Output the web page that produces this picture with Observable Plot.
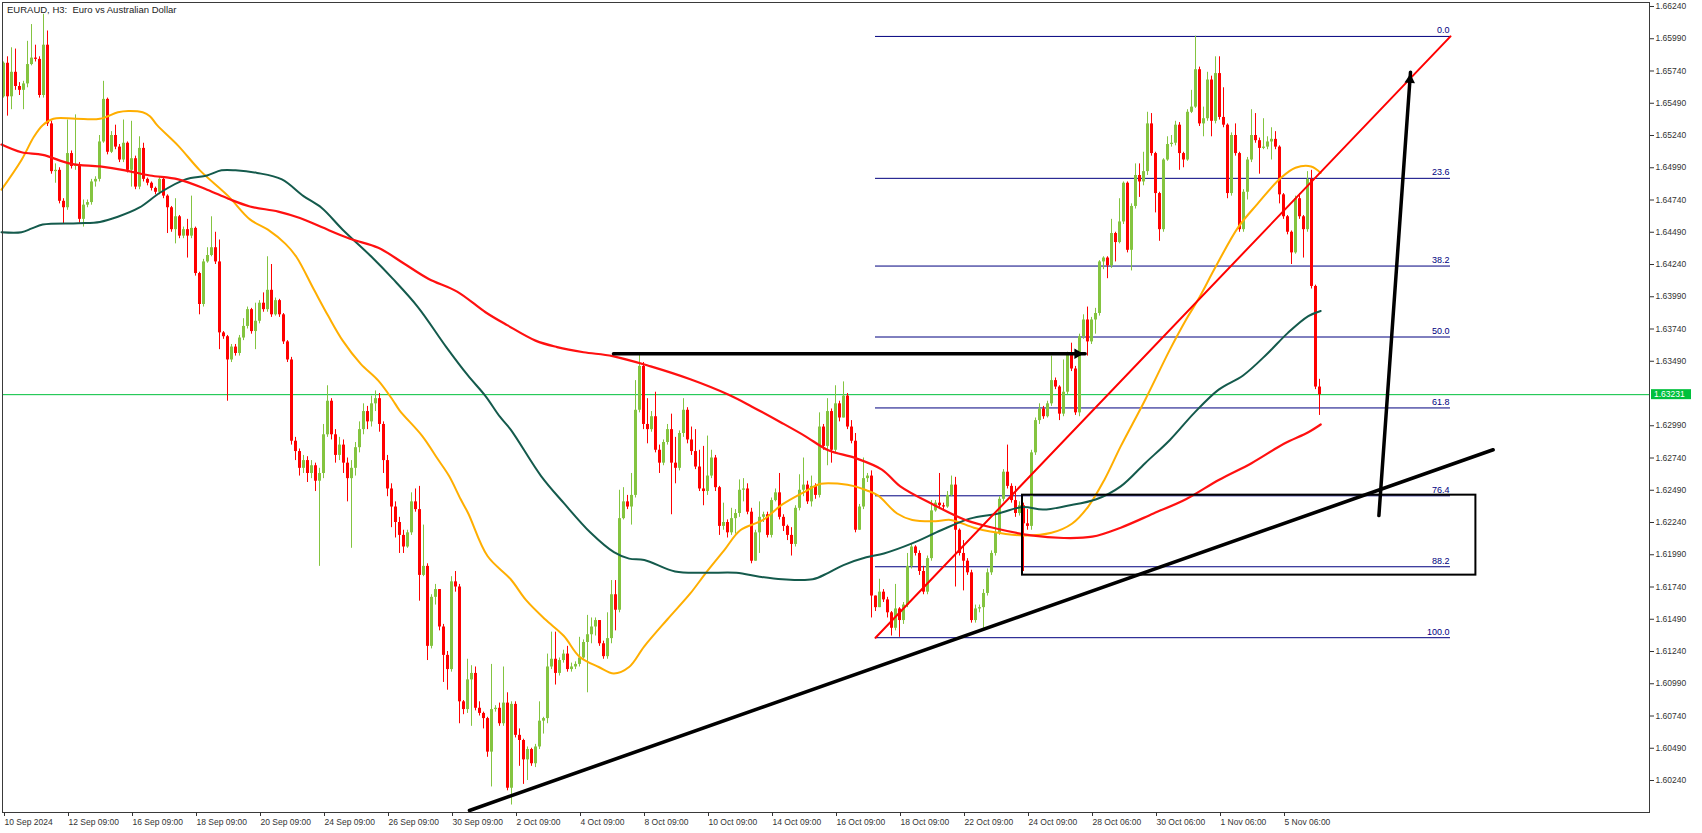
<!DOCTYPE html>
<html><head><meta charset="utf-8">
<script src="https://cdn.jsdelivr.net/npm/d3@7"></script>
<script src="https://cdn.jsdelivr.net/npm/@observablehq/plot@0.6"></script>
<style>body{margin:0;background:#fff;} svg{display:block}</style>
</head><body><div id="chart"></div>
<script>
// ---- Data (EURAUD H3, bar index from 10 Sep 2024) ----
const titleText = "EURAUD, H3:\u00a0 Euro vs Australian Dollar";
const firstOpen = 1.6554;
const closes = [1.6580,1.6554,1.6573,1.6562,1.6559,1.6564,1.6579,1.6584,1.6583,1.6555,
1.6594,1.6533,1.6496,1.6497,1.6473,1.6468,1.6510,1.6500,1.6501,1.6459,
1.6470,1.6472,1.6488,1.6490,1.6519,1.6552,1.6511,1.6524,1.6515,1.6505,
1.6518,1.6497,1.6506,1.6484,1.6514,1.6490,1.6487,1.6483,1.6480,1.6490,
1.6477,1.6468,1.6451,1.6461,1.6446,1.6451,1.6446,1.6452,1.6417,1.6393,
1.6426,1.6431,1.6437,1.6426,1.6371,1.6368,1.6350,1.6360,1.6355,1.6367,
1.6376,1.6389,1.6372,1.6380,1.6394,1.6389,1.6404,1.6385,1.6396,1.6385,
1.6364,1.6350,1.6287,1.6279,1.6266,1.6272,1.6262,1.6268,1.6256,1.6262,
1.6292,1.6318,1.6292,1.6276,1.6284,1.6270,1.6258,1.6266,1.6282,1.6296,
1.6310,1.6302,1.6316,1.6320,1.6300,1.6272,1.6250,1.6236,1.6224,1.6214,
1.6205,1.6216,1.6240,1.6234,1.6183,1.6190,1.6128,1.6166,1.6172,1.6143,
1.6121,1.6110,1.6178,1.6174,1.6085,1.6079,1.6102,1.6107,1.6080,1.6076,
1.6072,1.6046,1.6079,1.6080,1.6068,1.6084,1.6018,1.6083,1.6059,1.6055,
1.6040,1.6048,1.6037,1.6050,1.6070,1.6072,1.6112,1.6118,1.6107,1.6117,
1.6122,1.6110,1.6112,1.6114,1.6119,1.6131,1.6137,1.6143,1.6148,1.6130,
1.6120,1.6134,1.6168,1.6156,1.6227,1.6240,1.6236,1.6245,1.6311,1.6345,
1.6300,1.6296,1.6306,1.6280,1.6270,1.6286,1.6296,1.6270,1.6266,1.6293,
1.6311,1.6288,1.6279,1.6267,1.6250,1.6248,1.6260,1.6274,1.6251,1.6221,
1.6224,1.6216,1.6227,1.6231,1.6249,1.6250,1.6232,1.6194,1.6216,1.6228,
1.6230,1.6214,1.6241,1.6247,1.6228,1.6221,1.6214,1.6207,1.6235,1.6249,
1.6253,1.6240,1.6252,1.6245,1.6298,1.6283,1.6310,1.6280,1.6316,1.6305,
1.6322,1.6298,1.6287,1.6218,1.6236,1.6258,1.6260,1.6167,1.6158,1.6170,
1.6164,1.6154,1.6142,1.6157,1.6148,1.6160,1.6190,1.6205,1.6200,1.6186,
1.6170,1.6196,1.6233,1.6239,1.6237,1.6236,1.6245,1.6253,1.6218,1.6200,
1.6194,1.6185,1.6148,1.6157,1.6158,1.6169,1.6185,1.6200,1.6216,1.6242,
1.6263,1.6252,1.6241,1.6231,1.6237,1.6223,1.6221,1.6278,1.6303,1.6312,
1.6306,1.6316,1.6334,1.6329,1.6308,1.6325,1.6354,1.6343,1.6309,1.6368,
1.6381,1.6364,1.6381,1.6386,1.6426,1.6429,1.6423,1.6448,1.6441,1.6457,
1.6487,1.6435,1.6469,1.6493,1.6488,1.6496,1.6533,1.6510,1.6479,1.6451,
1.6505,1.6517,1.6518,1.6532,1.6510,1.6505,1.6542,1.6546,1.6575,1.6533,
1.6537,1.6567,1.6535,1.6572,1.6538,1.6532,1.6479,1.6524,1.6510,1.6451,
1.6480,1.6505,1.6524,1.6520,1.6514,1.6515,1.6519,1.6521,1.6515,1.6478,
1.6461,1.6449,1.6433,1.6475,1.6461,1.6451,1.6490,1.6407,1.6329,1.63231];
const highs = [1.6581,1.6585,1.6592,1.6591,1.6565,1.6566,1.6597,1.6610,1.6594,1.6585,
1.6618,1.6605,1.6535,1.6502,1.6499,1.6475,1.6536,1.6512,1.6540,1.6503,
1.6474,1.6474,1.6490,1.6492,1.6524,1.6566,1.6553,1.6527,1.6532,1.6517,
1.6536,1.6519,1.6535,1.6508,1.6523,1.6518,1.6491,1.6488,1.6484,1.6492,
1.6491,1.6478,1.6469,1.6475,1.6462,1.6453,1.6459,1.6477,1.6453,1.6418,
1.6428,1.6437,1.6461,1.6449,1.6443,1.6372,1.6369,1.6362,1.6362,1.6369,
1.6382,1.6391,1.6390,1.6394,1.6396,1.6402,1.6430,1.6424,1.6398,1.6397,
1.6386,1.6365,1.6352,1.6290,1.6281,1.6276,1.6275,1.6272,1.6270,1.6266,
1.6300,1.6330,1.6320,1.6296,1.6290,1.6288,1.6274,1.6272,1.6286,1.6302,
1.6316,1.6314,1.6322,1.6326,1.6324,1.6302,1.6276,1.6254,1.6240,1.6228,
1.6218,1.6218,1.6247,1.6250,1.6252,1.6222,1.6192,1.6168,1.6176,1.6172,
1.6145,1.6124,1.6182,1.6186,1.6176,1.6086,1.6118,1.6113,1.6112,1.6085,
1.6077,1.6073,1.6114,1.6082,1.6084,1.6112,1.6092,1.6085,1.6085,1.6064,
1.6056,1.6050,1.6049,1.6052,1.6085,1.6073,1.6122,1.6139,1.6139,1.6119,
1.6125,1.6128,1.6115,1.6116,1.6135,1.6133,1.6152,1.6150,1.6150,1.6148,
1.6132,1.6154,1.6179,1.6179,1.6249,1.6251,1.6245,1.6262,1.6334,1.6354,
1.6348,1.6320,1.6310,1.6325,1.6284,1.6288,1.6300,1.6308,1.6290,1.6295,
1.6320,1.6313,1.6298,1.6296,1.6280,1.6283,1.6291,1.6280,1.6276,1.6252,
1.6239,1.6226,1.6235,1.6234,1.6257,1.6258,1.6254,1.6235,1.6218,1.6240,
1.6232,1.6232,1.6243,1.6250,1.6262,1.6230,1.6222,1.6220,1.6237,1.6261,
1.6274,1.6256,1.6260,1.6254,1.6309,1.6300,1.6320,1.6312,1.6330,1.6318,
1.6333,1.6324,1.6303,1.6293,1.6238,1.6274,1.6262,1.6264,1.6167,1.6180,
1.6172,1.6166,1.6155,1.6176,1.6158,1.6162,1.6200,1.6207,1.6206,1.6202,
1.6190,1.6198,1.6241,1.6241,1.6262,1.6239,1.6248,1.6260,1.6259,1.6219,
1.6210,1.6196,1.6187,1.6160,1.6160,1.6172,1.6188,1.6202,1.6232,1.6244,
1.6265,1.6284,1.6254,1.6252,1.6240,1.6239,1.6234,1.6280,1.6305,1.6316,
1.6314,1.6318,1.6353,1.6336,1.6330,1.6350,1.6356,1.6363,1.6345,1.6370,
1.6385,1.6391,1.6383,1.6390,1.6427,1.6430,1.6430,1.6459,1.6449,1.6475,
1.6488,1.6488,1.6471,1.6502,1.6502,1.6511,1.6542,1.6541,1.6511,1.6480,
1.6506,1.6523,1.6524,1.6535,1.6534,1.6511,1.6544,1.6559,1.6601,1.6577,
1.6546,1.6573,1.6570,1.6585,1.6585,1.6561,1.6533,1.6526,1.6533,1.6511,
1.6482,1.6507,1.6544,1.6541,1.6522,1.6537,1.6523,1.6530,1.6527,1.6516,
1.6479,1.6462,1.6450,1.6477,1.6479,1.6462,1.6496,1.6497,1.6408,1.6335];
const lows = [1.6553,1.6539,1.6544,1.6559,1.6555,1.6544,1.6561,1.6578,1.6581,1.6553,
1.6553,1.6531,1.6494,1.6487,1.6471,1.6455,1.6466,1.6498,1.6497,1.6456,
1.6453,1.6468,1.6470,1.6484,1.6488,1.6518,1.6509,1.6510,1.6513,1.6503,
1.6503,1.6495,1.6484,1.6482,1.6482,1.6488,1.6485,1.6481,1.6478,1.6478,
1.6475,1.6448,1.6449,1.6440,1.6444,1.6444,1.6429,1.6444,1.6415,1.6385,
1.6391,1.6425,1.6430,1.6424,1.6358,1.6366,1.6318,1.6348,1.6353,1.6353,
1.6365,1.6374,1.6370,1.6358,1.6378,1.6387,1.6387,1.6383,1.6384,1.6383,
1.6362,1.6348,1.6284,1.6272,1.6260,1.6262,1.6255,1.6258,1.6248,1.6190,
1.6258,1.6290,1.6288,1.6270,1.6272,1.6262,1.6240,1.6204,1.6260,1.6278,
1.6292,1.6296,1.6298,1.6310,1.6294,1.6262,1.6244,1.6220,1.6212,1.6200,
1.6200,1.6204,1.6214,1.6232,1.6163,1.6182,1.6117,1.6126,1.6160,1.6140,
1.6100,1.6094,1.6108,1.6170,1.6068,1.6075,1.6076,1.6066,1.6078,1.6074,
1.6064,1.6042,1.6019,1.6077,1.6066,1.6066,1.6016,1.6005,1.6057,1.6035,
1.6021,1.6024,1.6035,1.6034,1.6048,1.6060,1.6068,1.6110,1.6098,1.6105,
1.6115,1.6108,1.6108,1.6110,1.6112,1.6118,1.6092,1.6130,1.6136,1.6128,
1.6118,1.6118,1.6130,1.6140,1.6154,1.6226,1.6234,1.6222,1.6243,1.6309,
1.6296,1.6285,1.6294,1.6278,1.6262,1.6268,1.6284,1.6230,1.6254,1.6264,
1.6290,1.6285,1.6276,1.6265,1.6248,1.6237,1.6245,1.6258,1.6248,1.6214,
1.6218,1.6212,1.6214,1.6215,1.6228,1.6240,1.6230,1.6192,1.6194,1.6200,
1.6224,1.6212,1.6212,1.6240,1.6226,1.6217,1.6210,1.6198,1.6205,1.6233,
1.6244,1.6238,1.6236,1.6242,1.6243,1.6280,1.6268,1.6270,1.6278,1.6302,
1.6305,1.6296,1.6285,1.6216,1.6218,1.6234,1.6255,1.6150,1.6155,1.6158,
1.6162,1.6150,1.6136,1.6140,1.6135,1.6145,1.6158,1.6188,1.6198,1.6183,
1.6168,1.6168,1.6194,1.6232,1.6234,1.6234,1.6235,1.6244,1.6174,1.6198,
1.6171,1.6183,1.6146,1.6146,1.6154,1.6141,1.6167,1.6183,1.6198,1.6214,
1.6240,1.6250,1.6239,1.6228,1.6229,1.6186,1.6218,1.6218,1.6276,1.6300,
1.6304,1.6305,1.6314,1.6327,1.6303,1.6306,1.6323,1.6341,1.6307,1.6306,
1.6366,1.6353,1.6362,1.6370,1.6384,1.6420,1.6413,1.6421,1.6426,1.6440,
1.6455,1.6433,1.6419,1.6467,1.6476,1.6485,1.6493,1.6508,1.6464,1.6442,
1.6449,1.6504,1.6515,1.6516,1.6497,1.6499,1.6504,1.6541,1.6545,1.6531,
1.6523,1.6535,1.6523,1.6533,1.6536,1.6530,1.6475,1.6477,1.6508,1.6449,
1.6449,1.6474,1.6503,1.6518,1.6494,1.6513,1.6513,1.6505,1.6513,1.6471,
1.6459,1.6447,1.6424,1.6432,1.6459,1.6429,1.6449,1.6405,1.6327,1.6307];

// Moving averages: [bar, price]
const maYellow = [[-0.5,1.6482],[4.5,1.6505],[7.6,1.6523],[9.8,1.6532],[12.5,1.6537],[18,1.6537],[24.1,1.6537],[28.6,1.6542],[31.2,1.6543],[34.8,1.6542],[36.6,1.6539],[38.4,1.6532],[43.7,1.6516],[49.1,1.6497],[56.2,1.6477],[61.6,1.6459],[66.1,1.6451],[70.5,1.6440],[73.2,1.6430],[77.7,1.6404],[81.2,1.6384],[84.8,1.6365],[89.3,1.6347],[93.7,1.6334],[97.3,1.6319],[99,1.6311],[104.7,1.6291],[108.6,1.6273],[111.4,1.6260],[114.3,1.6242],[116.2,1.6231],[121,1.6198],[126.8,1.6180],[130.6,1.6164],[135.4,1.6149],[140.1,1.6136],[144,1.6120],[148.8,1.6112],[152.6,1.6107],[156.4,1.6112],[160.2,1.6128],[166,1.6149],[171.7,1.6169],[175.6,1.6185],[180.3,1.6203],[184.2,1.6218],[189.9,1.6226],[194.7,1.6238],[200.4,1.6248],[204.3,1.6254],[209,1.6254],[212.9,1.6252],[215.7,1.6249],[218.6,1.6245],[223.4,1.6231],[227.2,1.6226],[233,1.6225],[236.8,1.6226],[242.6,1.6220],[246.7,1.6217],[254.8,1.6214],[262,1.6216],[267.1,1.6223],[271.1,1.6236],[275.2,1.6257],[279.3,1.6283],[285.4,1.6319],[291.6,1.6358],[295.6,1.6381],[298.7,1.6397],[303,1.6422],[308.7,1.6453],[313.5,1.6471],[319.3,1.6491],[323,1.6499],[326.9,1.6500],[329.3,1.6495]];
const maGreen = [[-0.5,1.6449],[4.5,1.6449],[7.1,1.6452],[9.8,1.6455],[18.7,1.6456],[24.1,1.6457],[28.6,1.6461],[33.9,1.6468],[39.3,1.6480],[45.5,1.6490],[50.9,1.6493],[54.5,1.6497],[58,1.6497],[63.4,1.6495],[69.6,1.6490],[75,1.6477],[79.5,1.6468],[84.8,1.6451],[92,1.6430],[97.3,1.6413],[103.6,1.6391],[110.7,1.6360],[116.1,1.6338],[120.5,1.6322],[124.1,1.6306],[126.8,1.6296],[134.4,1.6260],[140.1,1.6239],[146.8,1.6216],[152.6,1.6201],[156.4,1.6196],[160.2,1.6195],[167.9,1.6186],[175.6,1.6185],[183.2,1.6185],[189,1.6182],[194.7,1.6180],[202.3,1.6180],[206.2,1.6185],[210,1.6191],[215.7,1.6197],[220.1,1.6200],[227.3,1.6208],[234.4,1.6218],[241.6,1.6227],[248.7,1.6231],[254.8,1.6236],[259.9,1.6234],[266,1.6237],[273.2,1.6242],[279.3,1.6252],[285.4,1.6270],[291.6,1.6288],[297.7,1.6309],[303.8,1.6327],[309.9,1.6338],[316,1.6355],[321.1,1.6371],[326.2,1.6384],[329.3,1.6388]];
const maRed = [[-0.5,1.6517],[4.5,1.6511],[9.8,1.6509],[16.9,1.6502],[24.1,1.6500],[30.4,1.6497],[36.6,1.6493],[43.7,1.6490],[50.9,1.6482],[56.2,1.6475],[61.6,1.6469],[68.7,1.6465],[74.1,1.6460],[79.5,1.6453],[86.6,1.6444],[93.7,1.6437],[100,1.6425],[106.2,1.6413],[113.4,1.6403],[120.5,1.6387],[125.9,1.6377],[133,1.6365],[138.4,1.6360],[145,1.6356],[152.3,1.6353],[161.8,1.6345],[171.7,1.6335],[181.3,1.6323],[187,1.6314],[194.7,1.6301],[200.4,1.6291],[206.2,1.6280],[212.9,1.6274],[219.6,1.6265],[224.2,1.6252],[232.4,1.6238],[240.5,1.6226],[248.7,1.6219],[256.9,1.6214],[265,1.6212],[272.2,1.6213],[279.3,1.6220],[287.5,1.6231],[295.6,1.6242],[303.8,1.6257],[312,1.6270],[320.1,1.6285],[326.2,1.6294],[329.3,1.6300]];

// Fibonacci retracement
const fibLabels = ["0.0","23.6","38.2","50.0","61.8","76.4","88.2","100.0"];
const fibPrices = [1.66008,1.64908,1.64228,1.63678,1.63128,1.62447,1.61897,1.61347];
const fibBars = [218, 361.75];              // start / end bar of the fib levels
const fibAnchor = [[218,1.61347],[361.75,1.66008]];

// Drawn objects: [bar, price]
const trendLine = [[116.5,1.60008],[372.4,1.62804]];
const arrowH = [[152.5,1.63548],[270.4,1.63548]];
const arrowUp = [[343.85,1.62294],[351.75,1.65731]];
const zoneBox = {x1:254.75, x2:368.1, y1:1.62452, y2:1.61832};

const bidPrice = 1.63231;
const yTicks = [1.60240,1.60490,1.60740,1.60990,1.61240,1.61490,1.61740,1.61990,1.62240,1.62490,1.62740,1.62990,1.63490,1.63740,1.63990,1.64240,1.64490,1.64740,1.64990,1.65240,1.65490,1.65740,1.65990,1.66240];
const xTickBars = [0,16,32,48,64,80,96,112,128,144,160,176,192,208,224,240,256,272,288,304,320];
const xTickLabels = ["10 Sep 2024","12 Sep 09:00","16 Sep 09:00","18 Sep 09:00","20 Sep 09:00","24 Sep 09:00","26 Sep 09:00","30 Sep 09:00","2 Oct 09:00","4 Oct 09:00","8 Oct 09:00","10 Oct 09:00","14 Oct 09:00","16 Oct 09:00","18 Oct 09:00","22 Oct 09:00","24 Oct 09:00","28 Oct 06:00","30 Oct 06:00","1 Nov 06:00","5 Nov 06:00"];

// ---- Styles ----
const bull = "#84c440", bear = "#ff0000", navy = "#00007f", bidColor = "#00c03c";

const candles = closes.map((c, i) => {
  const o = i === 0 ? firstOpen : closes[i - 1];
  const h = Math.max(highs[i] ?? c, o, c), l = Math.min(lows[i] ?? c, o, c);
  return {i, open: o, close: c, high: h, low: l, up: c >= o};
});
const ups = candles.filter(d => d.up), downs = candles.filter(d => !d.up);
const fibData = fibLabels.map((lab, k) => ({label: lab, price: fibPrices[k], x1: fibBars[0], x2: fibBars[1]}));
const pt = a => a.map(([x, y]) => ({x, y}));
const angleUp = Math.atan2(4 * (arrowUp[1][0] - arrowUp[0][0]), 12900 * (arrowUp[1][1] - arrowUp[0][1])) * 180 / Math.PI;

const chart = Plot.plot({
  width: 1702, height: 833,
  marginLeft: 2, marginRight: 53, marginTop: 2, marginBottom: 21,
  style: {fontFamily: "'Liberation Sans', Arial, sans-serif", fontSize: "8.5px", background: "#fff", color: "#222"},
  x: {type: "linear", domain: [-0.25, 411.5], axis: null},
  y: {type: "linear", domain: [1.59992, 1.66271], axis: null},
  marks: [
    Plot.ruleY([bidPrice], {stroke: bidColor, strokeWidth: 1}),
    Plot.ruleY(fibData, {y: "price", x1: "x1", x2: "x2", stroke: navy, strokeWidth: 1}),
    Plot.text(fibData, {x: "x2", y: "price", text: "label", textAnchor: "end", lineAnchor: "bottom", dx: -1, dy: -3, fill: navy, fontSize: 9}),
    Plot.ruleX(ups, {x: "i", y1: "low", y2: "high", stroke: bull, strokeWidth: 1}),
    Plot.ruleX(downs, {x: "i", y1: "low", y2: "high", stroke: bear, strokeWidth: 1}),
    Plot.ruleX(ups, {x: "i", y1: "open", y2: "close", stroke: bull, strokeWidth: 3}),
    Plot.ruleX(downs, {x: "i", y1: "open", y2: "close", stroke: bear, strokeWidth: 3}),
    Plot.line(pt(maYellow), {x: "x", y: "y", stroke: "#ffae00", strokeWidth: 2, curve: "catmull-rom"}),
    Plot.line(pt(maGreen), {x: "x", y: "y", stroke: "#145a4c", strokeWidth: 2, curve: "catmull-rom"}),
    Plot.line(pt(maRed), {x: "x", y: "y", stroke: "#ff1010", strokeWidth: 2.2, curve: "catmull-rom"}),
    Plot.line(pt(fibAnchor), {x: "x", y: "y", stroke: "#ff0000", strokeWidth: 2}),
    Plot.rect([zoneBox], {x1: "x1", x2: "x2", y1: "y1", y2: "y2", fill: "none", stroke: "#000", strokeWidth: 2}),
    Plot.line(pt(trendLine), {x: "x", y: "y", stroke: "#000", strokeWidth: 3.6}),
    Plot.line(pt(arrowH), {x: "x", y: "y", stroke: "#000", strokeWidth: 3.5}),
    Plot.dot([arrowH[1]], {x: d => d[0], y: d => d[1], symbol: "triangle2", r: 5, fill: "#000", stroke: "none", rotate: 90, dx: -7.7}),
    Plot.line(pt(arrowUp), {x: "x", y: "y", stroke: "#000", strokeWidth: 3.5}),
    Plot.dot([arrowUp[1]], {x: d => d[0], y: d => d[1], symbol: "triangle2", r: 5, fill: "#000", stroke: "none", rotate: angleUp,
      dx: -7.7 * Math.sin(angleUp * Math.PI / 180), dy: 7.7 * Math.cos(angleUp * Math.PI / 180)}),
    Plot.text([titleText], {frameAnchor: "top-left", dx: 4.5, dy: 4, lineAnchor: "top", fontSize: 9.5, fill: "#222"}),
    Plot.frame({stroke: "#3a3a3a", strokeWidth: 1}),
    Plot.axisY(yTicks, {anchor: "right", tickSize: 4, tickPadding: 2, tickFormat: d => d.toFixed(5), fontSize: 8.5, color: "#333"}),
    Plot.axisX(xTickBars, {anchor: "bottom", tickSize: 4, tickPadding: 2, tickFormat: d => xTickLabels[xTickBars.indexOf(d)], textAnchor: "start", dx: 1, fontSize: 8.5, color: "#333"})
  ]
});
document.getElementById("chart").appendChild(chart);

// current bid price label on the price axis (positioned with the chart's own scales)
const yPix = chart.scale("y").apply(bidPrice);
const xRight = chart.scale("x").range[1];
const svg = d3.select(chart);
const g = svg.append("g");
g.append("rect").attr("x", xRight + 2).attr("y", yPix - 5).attr("width", 40).attr("height", 10).attr("fill", bidColor);
g.append("text").attr("x", xRight + 5).attr("y", yPix + 3.2).attr("fill", "#fff").attr("text-anchor", "start")
  .attr("font-family", "'Liberation Sans', Arial, sans-serif").attr("font-size", 8.5).text(bidPrice.toFixed(5));
</script>
</body></html>
